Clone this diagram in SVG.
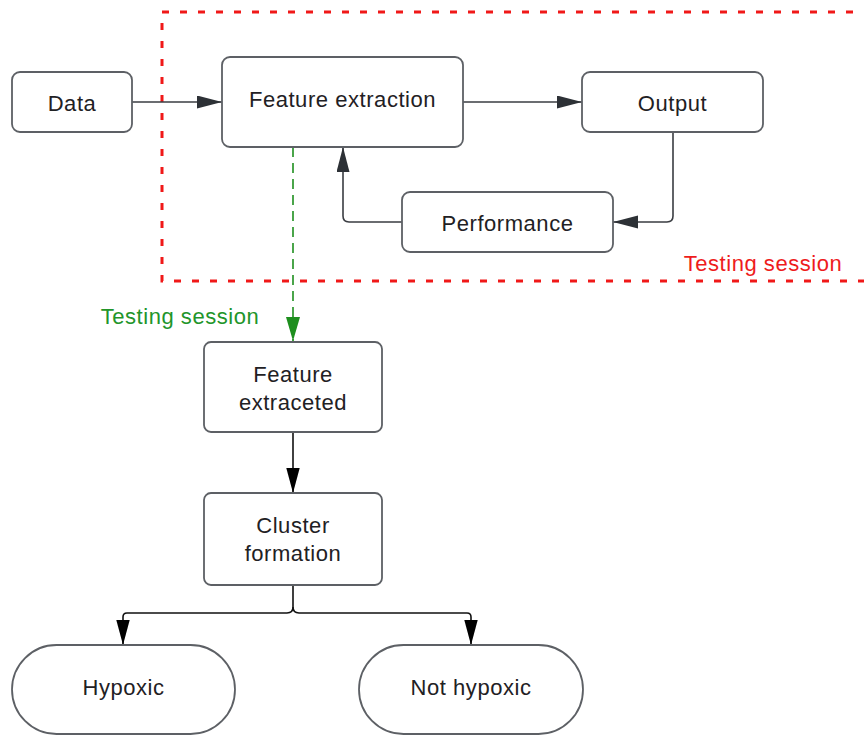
<svg xmlns="http://www.w3.org/2000/svg" width="864" height="735" viewBox="0 0 864 735">
<style>
  .box{fill:#ffffff;stroke:#5d6065;stroke-width:1.8}
  .t{font-family:"Liberation Sans",Arial,sans-serif;font-size:22px;letter-spacing:0.55px;fill:#1f2124;text-anchor:middle}
  .conn{fill:none;stroke:#3a3d42;stroke-width:1.6}
  .connb{fill:none;stroke:#111111;stroke-width:1.6}
  .green{fill:none;stroke:#1e8f1e;stroke-width:1.6;stroke-dasharray:10 6}
</style>
<defs>
  <marker id="ag" markerUnits="userSpaceOnUse" markerWidth="26" markerHeight="14" refX="25" refY="6.5" orient="auto">
    <path d="M0,0 L25,6.5 L0,13 Z" fill="#2d3136"/>
  </marker>
  <marker id="ab" markerUnits="userSpaceOnUse" markerWidth="26" markerHeight="14" refX="25" refY="6.7" orient="auto">
    <path d="M0,0 L25,6.7 L0,13.4 Z" fill="#000000"/>
  </marker>
  <marker id="agr" markerUnits="userSpaceOnUse" markerWidth="26" markerHeight="15" refX="24" refY="7" orient="auto">
    <path d="M0,0 L24,7 L0,14 Z" fill="#1e8f1e"/>
  </marker>
</defs>

<rect id="testing-region" x="162" y="12" width="712" height="269" fill="none" stroke="#f01818" stroke-width="3" stroke-dasharray="7 11"/>
<text class="t" x="763" y="271" fill="#ee1c1c" style="fill:#ee1c1c">Testing session</text>
<text class="t" x="180" y="324" style="fill:#22952a">Testing session</text>

<g id="connectors">
  <path class="conn" d="M132 102 H222" marker-end="url(#ag)"/>
  <path class="conn" d="M463 102 H582" marker-end="url(#ag)"/>
  <path class="conn" d="M673 132 V216 Q673 222 667 222 H613" marker-end="url(#ag)"/>
  <path class="conn" d="M402 222 H349 Q343 222 343 216 V147" marker-end="url(#ag)"/>
  <path class="green" d="M293 147 V341" marker-end="url(#agr)"/>
  <path class="connb" d="M293 432 V493" marker-end="url(#ab)"/>
  <path class="connb" d="M293 585 V607 Q293 613 287 613 H127 Q123 613 123 617 V645" marker-end="url(#ab)"/>
  <path class="connb" d="M293 607 Q293 613 299 613 H467 Q471 613 471 617 V645" marker-end="url(#ab)"/>
</g>

<g id="data">
  <rect class="box" x="12" y="72" width="120" height="60" rx="8"/>
  <text class="t" x="72" y="110.5">Data</text>
</g>
<g id="feature-extraction">
  <rect class="box" x="222" y="57" width="241" height="90" rx="8"/>
  <text class="t" x="342.5" y="107">Feature extraction</text>
</g>
<g id="output">
  <rect class="box" x="582" y="72" width="181" height="60" rx="8"/>
  <text class="t" x="672.5" y="111">Output</text>
</g>
<g id="performance">
  <rect class="box" x="402" y="192" width="211" height="60" rx="8"/>
  <text class="t" x="507.5" y="231">Performance</text>
</g>
<g id="feature-extraceted">
  <rect class="box" x="204" y="342" width="178" height="90" rx="7"/>
  <text class="t" x="293" y="382">Feature</text>
  <text class="t" x="293" y="410">extraceted</text>
</g>
<g id="cluster-formation">
  <rect class="box" x="204" y="493" width="178" height="92" rx="7"/>
  <text class="t" x="293" y="533">Cluster</text>
  <text class="t" x="293" y="561">formation</text>
</g>
<g id="hypoxic">
  <rect class="box" x="12" y="645" width="223" height="89" rx="44.5"/>
  <text class="t" x="123.5" y="695">Hypoxic</text>
</g>
<g id="not-hypoxic">
  <rect class="box" x="359" y="645" width="224" height="89" rx="44.5"/>
  <text class="t" x="471" y="695">Not hypoxic</text>
</g>
</svg>
